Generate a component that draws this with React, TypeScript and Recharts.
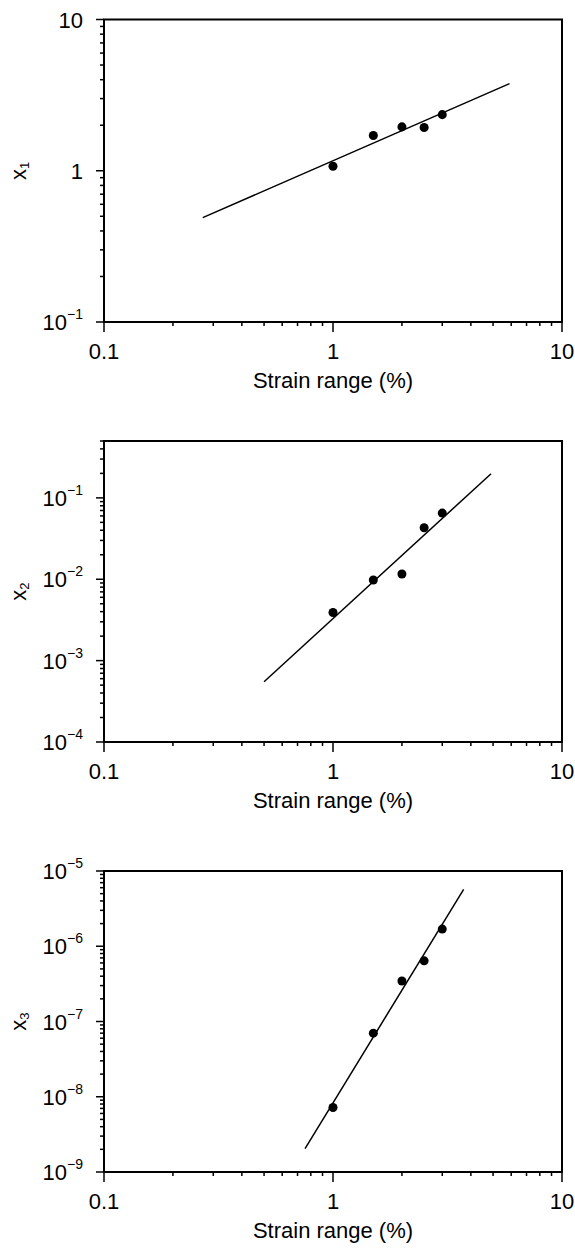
import React from 'react';
import { ScatterChart, Scatter, XAxis, YAxis, ReferenceArea, Label } from 'recharts';

// ---- data ----
const strainRange = [1, 1.5, 2, 2.5, 3];

const x1Values = [1.07, 1.71, 1.95, 1.93, 2.35];
const x1FitStrain = [0.27, 5.9];
const x1FitValues = [0.49, 3.77];

const x2Values = [0.0039, 0.0098, 0.0116, 0.043, 0.065];
const x2FitStrain = [0.5, 4.9];
const x2FitValues = [0.00055, 0.198];

const x3Values = [7.2e-9, 7.0e-8, 3.45e-7, 6.4e-7, 1.69e-6];
const x3FitStrain = [0.755, 3.72];
const x3FitValues = [2.05e-9, 5.7e-6];

// ---- axes ----
const mantissas = [1, 2, 3, 4, 5, 6, 7, 8, 9];
const xDecades = [-1, 0];
const xDomain = [0.1, 10];
const y1Decades = [-1, 0];
const y1Domain = [0.1, 10];
const y2Decades = [-4, -3, -2, -1];
const y2Domain = [0.0001, 0.5];
const y3Decades = [-9, -8, -7, -6];
const y3Domain = [1e-9, 1e-5];

const xLabel = 'Strain range (%)';
const FONT = '"Liberation Sans", Arial, Helvetica, sans-serif';

const AXIS_H = 60;
const AXIS_W = 100;

function buildTicks(decades: number[], domain: number[]) {
  const out: number[] = [];
  decades.forEach((e) => {
    mantissas.forEach((m) => {
      const v = Number((m * Math.pow(10, e)).toPrecision(6));
      if (v >= domain[0] * 0.999 && v <= domain[1] * 1.001) out.push(v);
    });
  });
  const last = Math.pow(10, decades[decades.length - 1] + 1);
  if (last <= domain[1] * 1.001) out.push(Number(last.toPrecision(6)));
  return out;
}

function isMajor(v: number) {
  const l = Math.log10(v);
  return Math.abs(l - Math.round(l)) < 1e-6;
}

function xTickLabel(v: number) {
  const e = Math.round(Math.log10(v));
  if (e === -1) return '0.1';
  return String(Math.pow(10, e));
}

const XTick = (props: any) => {
  const { x, y, payload } = props;
  const v = payload.value;
  const major = isMajor(v);
  return (
    <g>
      <line x1={x} x2={x} y1={y} y2={y + (major ? 10 : 4)} stroke="#000" strokeWidth={1.5} />
      {major && (
        <text x={x} y={y + 37} textAnchor="middle" fontSize={22} fontFamily={FONT} fill="#000">
          {xTickLabel(v)}
        </text>
      )}
    </g>
  );
};

const YTick = (props: any) => {
  const { x, y, payload } = props;
  const v = payload.value;
  const major = isMajor(v);
  const e = Math.round(Math.log10(v));
  return (
    <g>
      <line x1={x - (major ? 8 : 4)} x2={x} y1={y} y2={y} stroke="#000" strokeWidth={1.5} />
      {major && (
        <text x={x - 21} y={y + 8} textAnchor="end" fontSize={22} fontFamily={FONT} fill="#000">
          {e >= 0 ? (
            String(Math.pow(10, e))
          ) : (
            <>
              <tspan>10</tspan>
              <tspan dy={-11} fontSize={14}>{'\u2212' + String(-e)}</tspan>
            </>
          )}
        </text>
      )}
    </g>
  );
};

type PanelProps = {
  top: number;
  height: number;
  marginTop: number;
  marginBottom: number;
  values: number[];
  fitStrain: number[];
  fitValues: number[];
  yDomain: number[];
  yDecades: number[];
  sub: string;
};

function Panel(p: PanelProps) {
  const points = strainRange.map((s, i) => ({ x: s, y: p.values[i] }));
  const fit = p.fitStrain.map((s, i) => ({ x: s, y: p.fitValues[i] }));
  const xTicks = buildTicks(xDecades, xDomain);
  const yTicks = buildTicks(p.yDecades, p.yDomain);
  return (
    <div style={{ position: 'absolute', left: 0, top: p.top }}>
      <ScatterChart
        width={575}
        height={p.height}
        margin={{ top: p.marginTop, right: 13, bottom: p.marginBottom - AXIS_H, left: 104 - AXIS_W }}
      >
        <XAxis
          type="number"
          dataKey="x"
          scale="log"
          domain={xDomain}
          ticks={xTicks}
          interval={0}
          allowDataOverflow
          height={AXIS_H}
          tickSize={0}
          tickMargin={0}
          tickLine={false}
          tick={<XTick />}
          axisLine={{ stroke: '#000', strokeWidth: 2 }}
        >
          <Label
            content={(lp: any) => {
              const vb = lp.viewBox || {};
              const cx = (vb.x || 0) + (vb.width || 0) / 2;
              const cy = (vb.y || 0) + 66;
              return (
                <text x={cx} y={cy} textAnchor="middle" fontFamily={FONT} fontSize={22} fill="#000">
                  {xLabel}
                </text>
              );
            }}
          />
        </XAxis>
        <YAxis
          type="number"
          dataKey="y"
          scale="log"
          domain={p.yDomain}
          ticks={yTicks}
          interval={0}
          allowDataOverflow
          width={AXIS_W}
          tickSize={0}
          tickMargin={0}
          tickLine={false}
          tick={<YTick />}
          axisLine={{ stroke: '#000', strokeWidth: 2 }}
        >
          <Label
            content={(lp: any) => {
              const vb = lp.viewBox || {};
              const cx = 18;
              const cy = (vb.y || 0) + (vb.height || 0) / 2;
              return (
                <text
                  x={cx}
                  y={cy}
                  transform={`rotate(-90, ${cx}, ${cy})`}
                  textAnchor="middle"
                  dominantBaseline="central"
                  fontFamily={FONT}
                  fontSize={22}
                  fill="#000"
                >
                  <tspan>x</tspan>
                  <tspan dy={6} fontSize={13}>{p.sub}</tspan>
                </text>
              );
            }}
          />
        </YAxis>
        <ReferenceArea
          x1={xDomain[0]}
          x2={xDomain[1]}
          y1={p.yDomain[0]}
          y2={p.yDomain[1]}
          fill="none"
          fillOpacity={0}
          stroke="#000"
          strokeWidth={2}
          ifOverflow="visible"
        />
        <Scatter
          data={fit}
          line={{ stroke: '#000', strokeWidth: 1.5 }}
          shape={() => <g />}
          isAnimationActive={false}
        />
        <Scatter data={points} fill="#000" isAnimationActive={false} />
      </ScatterChart>
    </div>
  );
}

export default function App() {
  return (
    <div style={{ position: 'absolute', left: 0, top: 0, width: 575, height: 1248, background: '#fff' }}>
      <Panel
        top={0}
        height={410}
        marginTop={19.5}
        marginBottom={88}
        values={x1Values}
        fitStrain={x1FitStrain}
        fitValues={x1FitValues}
        yDomain={y1Domain}
        yDecades={y1Decades}
        sub="1"
      />
      <Panel
        top={410}
        height={420}
        marginTop={31}
        marginBottom={88}
        values={x2Values}
        fitStrain={x2FitStrain}
        fitValues={x2FitValues}
        yDomain={y2Domain}
        yDecades={y2Decades}
        sub="2"
      />
      <Panel
        top={830}
        height={418}
        marginTop={41}
        marginBottom={76}
        values={x3Values}
        fitStrain={x3FitStrain}
        fitValues={x3FitValues}
        yDomain={y3Domain}
        yDecades={y3Decades}
        sub="3"
      />
    </div>
  );
}
